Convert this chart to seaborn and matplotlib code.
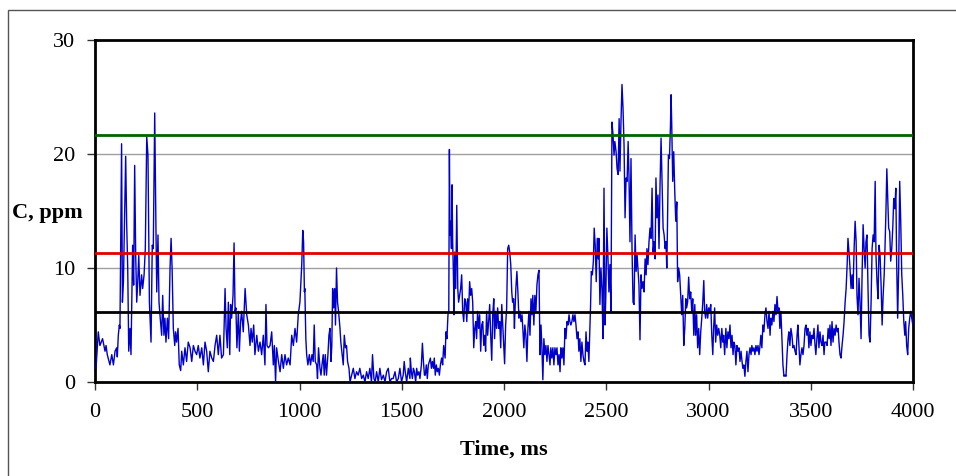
import matplotlib
matplotlib.use("Agg")
import matplotlib.pyplot as plt
import seaborn as sns
import pandas as pd
from matplotlib.patches import Rectangle

time_ms = [
    5, 16, 24, 37, 49, 54, 60, 73, 82, 90, 98, 106, 109, 114, 119, 122, 130, 134, 139, 150,
    155, 160, 165, 171, 176, 181, 184, 189, 194, 199, 204, 209, 214, 220, 228, 233, 240, 246, 253, 259,
    266, 274, 280, 285, 292, 298, 302, 308, 313, 319, 326, 331, 337, 342, 347, 354, 360, 367, 372, 377,
    383, 390, 394, 399, 406, 412, 419, 424, 432, 440, 448, 456, 465, 473, 481, 489, 497, 505, 513,
    522, 530, 538, 546, 554, 562, 571, 579, 587, 595, 603, 611, 619, 628, 636, 641, 647, 652, 659, 663,
    668, 675, 680, 685, 689, 694, 701, 706, 712, 717, 725, 734, 742, 750, 758, 763, 769, 776, 782, 791,
    799, 807, 815, 823, 831, 836, 841, 848, 856, 864, 872, 877, 883, 888, 897, 905, 913, 921, 929, 937,
    945, 954, 962, 970, 978, 986, 994, 1002, 1011, 1016, 1020, 1024,
    1026, 1031, 1035, 1041, 1048, 1054, 1061, 1067, 1072, 1077, 1084, 1088, 1093, 1100, 1105, 1110, 1116, 1121, 1126, 1132,
    1139, 1144, 1149, 1154, 1158, 1162, 1167, 1172, 1176, 1181, 1186, 1191, 1198, 1202, 1207, 1214, 1219, 1225, 1230, 1235,
    1242, 1247, 1255, 1263, 1271, 1279, 1287, 1295, 1304, 1312, 1320, 1328, 1336, 1344, 1352, 1357, 1364, 1370, 1377, 1385,
    1393, 1401, 1410, 1418, 1426, 1434, 1442, 1450, 1458, 1467, 1475, 1483, 1491, 1499, 1507, 1512, 1517, 1524, 1532, 1540,
    1542, 1547, 1552, 1557, 1562, 1568, 1573, 1578, 1584, 1589, 1596, 1601, 1606, 1611, 1615, 1620, 1625, 1630, 1635, 1640,
    1645, 1650, 1655, 1659, 1664, 1669, 1674, 1679, 1684, 1689, 1695, 1700, 1705, 1712, 1716, 1721, 1726, 1730, 1733, 1736,
    1739, 1743, 1746, 1749, 1752, 1756, 1759, 1764, 1769, 1774, 1778, 1783, 1788, 1793, 1798, 1803, 1808, 1813, 1818, 1822,
    1827, 1832, 1837, 1842, 1847, 1852, 1857, 1862, 1866, 1871, 1876, 1881, 1886, 1891, 1896, 1901, 1906, 1910, 1915, 1920,
    1925, 1930, 1935, 1940, 1945, 1950, 1954, 1959, 1964, 1969, 1974, 1979, 1984, 1989, 1994, 1998, 2003, 2008, 2013, 2018,
    2023, 2028, 2033, 2038, 2042, 2047, 2051,
    2053, 2058, 2063, 2068, 2073, 2078, 2083, 2088, 2093, 2097, 2102, 2107, 2112, 2117, 2122, 2127, 2132, 2137, 2141, 2146,
    2151, 2156, 2161, 2166, 2171, 2176, 2181, 2185, 2190, 2195, 2200, 2205, 2210, 2215, 2220, 2225, 2229, 2234, 2239, 2244,
    2249, 2254, 2259, 2264, 2269, 2274, 2278, 2283, 2288, 2293, 2298, 2303, 2308, 2313, 2318, 2322, 2327, 2332, 2337, 2342,
    2347, 2352, 2357, 2362, 2366, 2371, 2376, 2381, 2386, 2391, 2396, 2401, 2406, 2410, 2415, 2420, 2423, 2427, 2432, 2437,
    2441, 2446, 2451, 2456, 2461, 2464, 2469, 2474, 2479, 2484, 2489, 2494, 2498, 2503, 2508, 2513, 2518, 2523, 2528, 2533,
    2538, 2542,
    2548, 2553, 2558, 2563, 2567, 2572, 2577, 2582, 2587, 2592, 2597, 2602, 2607, 2611, 2616, 2621, 2626, 2631, 2636, 2641,
    2646, 2651, 2655, 2660, 2665, 2670, 2675, 2680, 2685, 2690, 2695, 2699, 2704, 2709, 2714, 2719, 2724, 2729, 2734, 2739,
    2743, 2748, 2753, 2758, 2763, 2768, 2773, 2778, 2783, 2788, 2792, 2796, 2799, 2804, 2809, 2814, 2817, 2820, 2825, 2830,
    2835, 2840, 2845, 2849, 2854, 2859, 2864, 2869, 2874, 2879, 2884, 2889, 2893, 2898, 2903, 2908, 2913, 2918, 2923, 2928,
    2933, 2937, 2942, 2947, 2952, 2957, 2962, 2967, 2972, 2977, 2981, 2986, 2991, 2996, 3001, 3006, 3011, 3016, 3021, 3025,
    3030, 3035, 3040, 3045, 3050, 3055, 3060, 3065, 3070, 3074, 3079,
    3085, 3090, 3095, 3100, 3105, 3110, 3115, 3120, 3124, 3129, 3134, 3139, 3144, 3149, 3154, 3159, 3164, 3168, 3173, 3178,
    3183, 3188, 3193, 3198, 3203, 3208, 3212, 3217, 3222, 3227, 3232, 3237, 3242, 3247, 3252, 3256, 3261, 3266, 3271, 3276,
    3281, 3286, 3291, 3296, 3301, 3305, 3310, 3315, 3320, 3325, 3330, 3335, 3340, 3345, 3349, 3354, 3359, 3364, 3369, 3374,
    3379, 3384, 3389, 3393, 3398, 3403, 3408, 3413, 3418, 3423, 3428, 3433, 3437, 3442, 3447, 3452, 3457, 3462, 3467, 3472,
    3477, 3481, 3486, 3491, 3496, 3501, 3506, 3511, 3516, 3521, 3525, 3530, 3535, 3540, 3545, 3550, 3555, 3560, 3565, 3569,
    3575, 3580, 3585, 3590, 3594, 3599, 3604, 3609, 3614, 3619, 3624, 3629, 3634, 3638, 3643, 3648, 3653, 3658, 3663, 3668,
    3673, 3678, 3682, 3687, 3692, 3697, 3702, 3707, 3712, 3717, 3722, 3726, 3731, 3736, 3741, 3746, 3751, 3756, 3761, 3766,
    3770, 3775, 3780, 3785, 3790, 3795, 3800, 3805, 3810, 3815, 3819, 3824, 3829, 3834, 3839, 3844, 3849, 3854, 3859, 3863,
    3868, 3872, 3876, 3881, 3886, 3891, 3896, 3901, 3906, 3911, 3916, 3920, 3925, 3930, 3935, 3940, 3945, 3950, 3955, 3960,
    3964, 3969, 3974, 3979, 3984, 3989, 3994, 3999,
]

conc_ppm = [
    1.2, 4.4, 3.2, 3.8, 2.7, 3.2, 2.4, 1.5, 2.4, 1.5, 2.7, 3.0, 2.2, 4.1, 5.0, 4.7, 20.9, 7.0, 8.8, 19.8,
    13.8, 10.0, 2.7, 4.7, 2.4, 8.2, 12.0, 8.5, 19.0, 11.1, 7.0, 8.8, 11.1, 7.6, 9.4, 8.2, 9.4, 11.7, 21.5, 19.9,
    7.0, 3.5, 12.0, 11.7, 23.6, 13.5, 7.9, 12.9, 7.0, 5.6, 4.1, 7.6, 4.1, 5.6, 3.5, 5.6, 3.8, 10.0, 12.6, 10.0,
    4.7, 3.2, 4.4, 3.5, 4.7, 1.5, 1.0, 2.7, 1.5, 3.0, 1.8, 3.5, 3.0, 1.8, 3.2, 2.7, 2.4, 3.2, 2.1,
    3.0, 1.5, 3.5, 2.7, 0.9, 2.7, 2.1, 1.8, 3.2, 4.1, 2.4, 4.1, 2.1, 2.4, 8.2, 4.7, 3.0, 7.0, 2.4, 6.8,
    5.6, 7.6, 12.2, 6.2, 6.5, 3.0, 6.2, 2.7, 5.3, 6.2, 4.4, 8.2, 5.9, 5.0, 3.2, 4.7, 3.5, 5.0, 2.4, 4.1,
    2.7, 3.5, 2.4, 4.1, 1.5, 6.8, 3.2, 3.0, 3.2, 4.4, 1.5, 3.2, 0.0, 3.0, 1.8, 0.9, 2.4, 1.2, 2.4, 1.5,
    2.1, 1.5, 4.1, 3.2, 4.7, 3.5, 5.9, 7.0, 10.3, 13.3, 12.3, 7.9,
    8.2, 3.8, 2.4, 1.5, 2.4, 1.5, 2.4, 1.8, 5.0, 1.8, 1.5, 0.3, 3.0, 1.2, 0.6, 1.5, 2.4, 0.6, 2.4, 0.6,
    2.4, 4.1, 4.7, 1.8, 3.2, 8.2, 6.5, 8.2, 5.0, 10.0, 7.0, 6.2, 4.7, 3.5, 2.7, 1.5, 4.1, 3.0, 3.2, 1.8,
    1.2, 0.0, 0.6, 1.2, 0.3, 0.9, 0.6, 1.2, 0.3, 0.6, 0.0, 0.9, 0.3, 1.2, 0.0, 2.4, 0.3, 0.0, 0.9, 0.0,
    1.2, 0.2, 0.6, 0.0, 0.9, 1.2, 0.0, 0.3, 0.3, 0.9, 0.0, 0.3, 1.2, 0.0, 0.6, 1.8, 0.9, 0.0, 1.2, 0.3,
    2.1, 0.9, 0.3, 1.2, 0.9, 0.0, 1.2, 0.6, 0.9, 0.3, 1.5, 3.4, 1.8, 0.6, 0.6, 1.5, 0.3, 1.5, 1.8, 2.1,
    1.2, 1.8, 1.2, 2.1, 0.6, 1.5, 0.9, 1.2, 0.6, 1.5, 2.1, 1.5, 3.2, 2.1, 4.4, 3.8, 5.9, 6.2, 20.4, 12.9,
    14.1, 11.7, 17.3, 12.3, 10.0, 5.9, 11.4, 8.2, 15.5, 8.2, 7.0, 7.6, 8.2, 9.4, 6.2, 5.3, 7.3, 7.0, 5.3, 7.3,
    6.2, 8.8, 7.6, 8.2, 7.0, 3.0, 4.7, 5.3, 3.8, 6.2, 4.7, 5.9, 2.7, 5.0, 5.3, 3.2, 4.1, 2.7, 6.2, 4.1,
    5.3, 6.8, 4.1, 1.9, 5.9, 7.3, 3.8, 6.2, 4.7, 6.5, 4.7, 5.3, 3.0, 6.8, 5.0, 3.5, 1.6, 5.0, 6.5, 11.7,
    12.0, 11.4, 10.3, 7.9, 7.0, 7.3, 4.7,
    5.9, 8.2, 9.7, 7.9, 5.6, 6.2, 5.3, 5.9, 4.4, 3.0, 5.0, 4.1, 1.8, 4.7, 6.2, 4.1, 7.3, 5.9, 7.6, 5.0,
    7.6, 6.2, 8.5, 9.4, 9.8, 2.4, 5.0, 3.2, 0.2, 3.8, 2.4, 3.2, 1.8, 3.2, 2.4, 1.5, 3.0, 2.1, 3.0, 1.5,
    3.0, 2.4, 3.0, 1.5, 2.4, 0.9, 3.0, 2.1, 3.0, 1.5, 4.7, 3.8, 5.3, 5.0, 5.9, 5.3, 5.0, 5.3, 5.9, 5.3,
    5.9, 5.0, 3.8, 4.4, 2.7, 3.8, 1.8, 3.5, 2.4, 1.8, 1.5, 4.4, 2.7, 3.5, 1.8, 4.7, 6.5, 9.7, 9.4, 10.6,
    13.5, 12.0, 8.8, 12.6, 10.8, 12.6, 6.8, 10.0, 8.2, 3.8, 17.0, 5.0, 7.6, 13.5, 11.1, 7.9, 10.3, 6.2, 22.8, 21.7,
    19.9, 21.1,
    20.2, 18.7, 18.2, 23.1, 18.5, 22.8, 26.1, 24.0, 20.8, 14.4, 17.9, 17.6, 21.1, 18.2, 12.3, 19.6, 11.7, 7.0, 6.8, 12.9,
    9.7, 11.1, 10.0, 8.5, 3.7, 9.4, 8.2, 8.8, 7.9, 10.8, 9.4, 11.7, 10.3, 12.3, 13.5, 12.6, 17.0, 11.4, 12.3, 10.8,
    17.9, 14.4, 16.4, 11.7, 17.3, 21.4, 17.3, 13.5, 12.9, 11.7, 12.3, 10.0, 13.2, 19.9, 19.6, 22.5, 25.2, 22.8, 17.6, 20.2,
    16.7, 14.1, 15.8, 8.8, 10.0, 9.4, 7.6, 5.9, 7.6, 3.2, 4.7, 7.3, 6.5, 7.0, 9.2, 7.3, 7.9, 6.2, 7.3, 4.1,
    6.8, 4.1, 5.9, 3.0, 4.7, 2.4, 4.4, 5.6, 7.0, 8.9, 6.2, 5.6, 6.8, 5.6, 6.5, 6.2, 6.8, 4.1, 2.4, 4.7,
    6.5, 3.5, 5.0, 4.1, 4.7, 4.1, 3.0, 4.7, 3.5, 4.1, 2.4,
    4.7, 3.0, 4.4, 3.8, 5.0, 3.0, 4.1, 2.4, 3.5, 3.2, 1.5, 3.2, 2.7, 3.0, 1.8, 2.7, 1.8, 1.2, 1.5, 0.5,
    1.8, 2.7, 0.9, 2.4, 3.0, 2.4, 3.2, 2.7, 3.0, 2.4, 3.2, 2.7, 3.2, 2.4, 3.2, 4.1, 3.0, 5.0, 4.4, 5.9,
    6.5, 5.3, 4.7, 6.2, 4.1, 5.6, 5.0, 6.2, 5.3, 6.8, 5.9, 7.5, 6.2, 6.5, 4.7, 6.2, 3.8, 1.5, 0.5, 0.6,
    0.5, 2.4, 3.8, 4.4, 3.2, 4.7, 4.1, 3.0, 3.2, 2.7, 2.4, 4.1, 5.0, 3.2, 1.5, 2.4, 3.0, 2.4, 3.2, 4.7,
    5.0, 4.1, 4.7, 3.0, 4.4, 3.2, 4.1, 3.8, 4.7, 3.2, 2.4, 3.8, 5.0, 3.0, 4.4, 3.5, 3.2, 4.1, 2.4, 3.5,
    3.5, 3.2, 4.7, 3.8, 5.0, 3.2, 5.3, 3.5, 4.7, 4.1, 5.0, 4.4, 4.7, 3.5, 2.4, 2.1, 3.2, 4.1, 5.3, 7.0,
    8.2, 10.3, 12.6, 11.4, 10.0, 8.2, 9.4, 8.2, 11.7, 14.1, 12.3, 7.6, 5.9, 9.1, 7.0, 3.8, 9.4, 13.8, 11.7, 10.0,
    12.3, 12.9, 8.2, 4.1, 3.5, 7.0, 11.7, 12.9, 12.3, 17.6, 11.1, 8.8, 7.3, 12.0, 11.1, 8.5, 5.0, 7.6, 9.4, 11.7,
    15.2, 18.7, 16.4, 13.5, 13.2, 10.6, 11.7, 13.5, 16.1, 15.2, 17.0, 10.6, 5.6, 10.0, 17.6, 14.1, 9.4, 7.6, 5.3, 4.1,
    5.3, 3.2, 2.4, 4.7, 5.6, 6.2, 5.6, 5.0,
]

ref_levels = [21.7, 11.3, 6.1]
ref_colors = ["#006400", "#e00000", "#000000"]
x_ticks = [0, 500, 1000, 1500, 2000, 2500, 3000, 3500, 4000]
y_ticks = [0, 10, 20, 30]

df = pd.DataFrame({"t": time_ms, "c": conc_ppm})

sns.set_theme(style="white")
plt.rcParams["font.family"] = ["Liberation Serif", "DejaVu Serif"]
plt.rcParams["text.color"] = "black"
plt.rcParams["xtick.color"] = "black"
plt.rcParams["ytick.color"] = "black"
plt.rcParams["axes.labelcolor"] = "black"

fig = plt.figure(figsize=(9.56, 4.76), dpi=100)
ax = fig.add_axes([95 / 956, 1 - 382 / 476, (913 - 95) / 956, (382 - 40) / 476])

# outer frame
fig.patches.append(Rectangle((8 / 956, -0.05), 1.0, 1 - 10 / 476 + 0.05,
                             transform=fig.transFigure, fill=False,
                             edgecolor="#555555", linewidth=1.0, zorder=0))

for yv in [10, 20]:
    ax.axhline(yv, color="#a0a0a0", linewidth=1.0, zorder=1)

sns.lineplot(data=df, x="t", y="c", ax=ax, color="#0000cc", linewidth=1.0,
             zorder=3, estimator=None, sort=False)

for lvl, col in zip(ref_levels, ref_colors):
    ax.axhline(lvl, color=col, linewidth=2.0, zorder=4)

ax.set_xlim(0, 4000)
ax.set_ylim(0, 30)
ax.set_xticks(x_ticks)
ax.set_yticks(y_ticks)
ax.set_xticklabels([str(v) for v in x_ticks], fontsize=16)
ax.set_yticklabels([str(v) for v in y_ticks], fontsize=16)
ax.tick_params(axis="both", direction="out", length=6, width=1, color="#333333",
               bottom=True, left=True)
ax.tick_params(axis="x", pad=9)
ax.tick_params(axis="y", pad=8)
for s in ax.spines.values():
    s.set_visible(True)
    s.set_color("black")
    s.set_linewidth(2.0)

ax.set_xlabel("Time, ms", fontsize=16, fontweight="bold", labelpad=13)
ax.set_ylabel("")
fig.text(12 / 956, 1 - 213 / 476, "C, ppm", fontsize=16, fontweight="bold",
         ha="left", va="center")

fig.savefig("out.png", dpi=100)
